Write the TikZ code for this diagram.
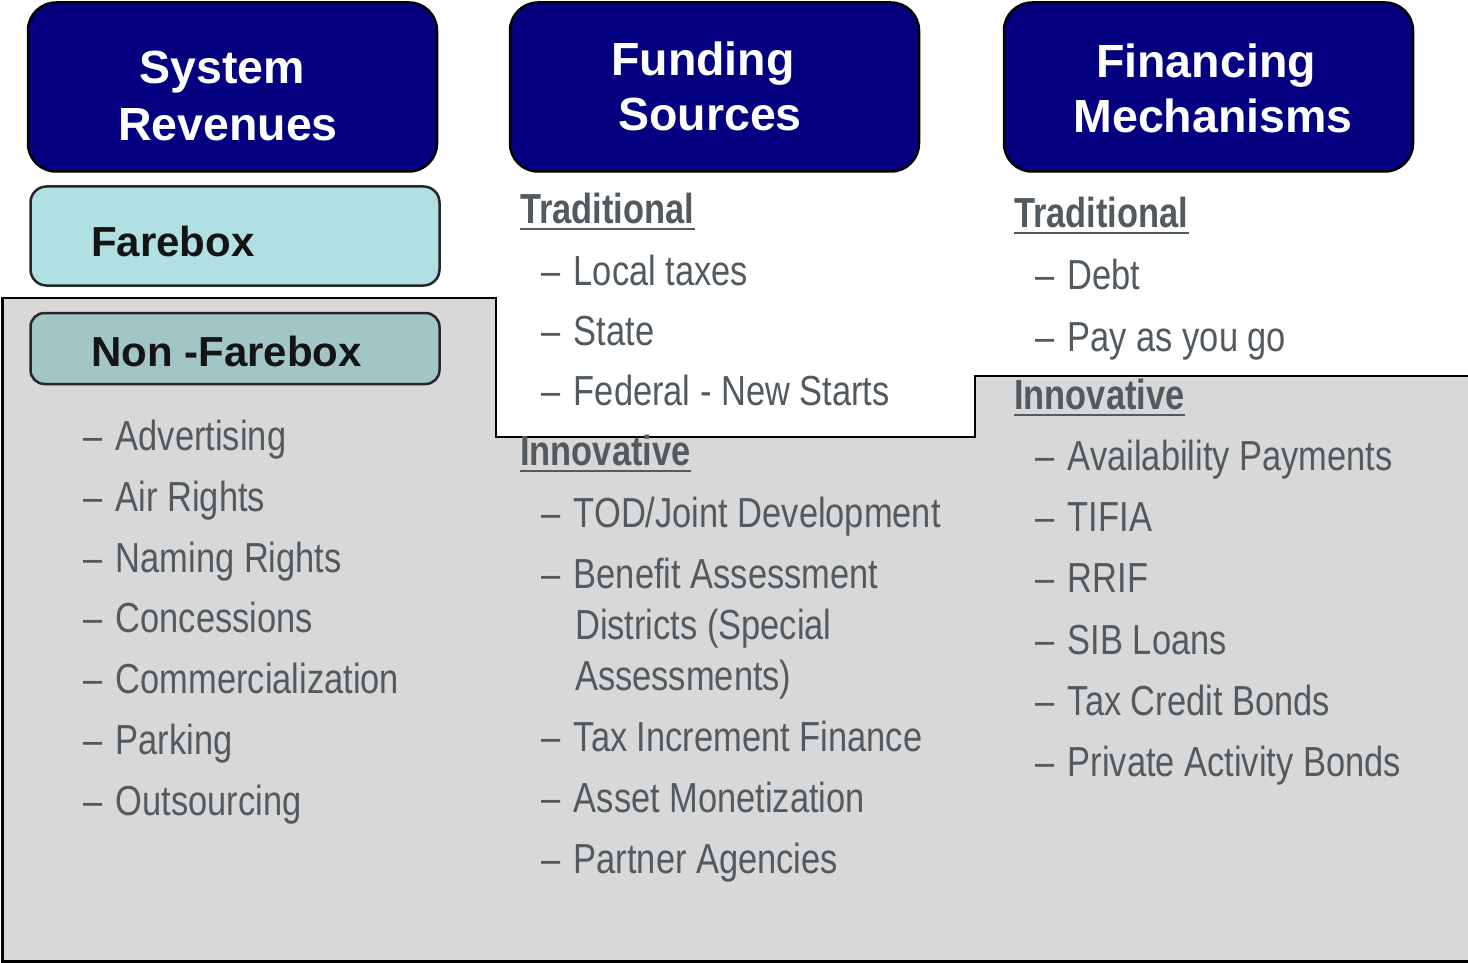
\documentclass[tikz,border=0pt]{standalone}
\usepackage{fontspec}
\setmainfont{Liberation Sans}
\newfontfamily\narrowfont[FakeStretch=0.82]{Liberation Sans}
\definecolor{navybox}{RGB}{4,0,128}
\definecolor{farefill}{RGB}{176,224,226}
\definecolor{nonfill}{RGB}{162,198,198}
\definecolor{panelgray}{RGB}{216,216,216}
\definecolor{txtgray}{RGB}{82,90,95}
\definecolor{boxtxt}{RGB}{20,20,20}
\newcommand{\itemdash}{–\hspace{13.5pt}}
\begin{document}
\begin{tikzpicture}[x=1pt,y=-1pt,
  hdrbox/.style={draw=black, line width=2.5pt, fill=navybox, rounded corners=28pt,
    minimum width=409pt, minimum height=169pt, inner sep=0pt},
  hdrtxt/.style={anchor=base, inner sep=0pt, text=white,
    font=\fontsize{46.5}{57}\selectfont\bfseries},
  subbox/.style={draw=black!85, line width=2.5pt, rounded corners=16pt,
    minimum width=409pt, inner sep=0pt},
  subtxt/.style={anchor=base west, inner sep=0pt, text=boxtxt,
    font=\fontsize{42}{51}\selectfont\bfseries},
  itm/.style={anchor=base west, inner sep=0pt, text=txtgray,
    font=\narrowfont\fontsize{42}{51}\selectfont},
  hd/.style={anchor=base west, inner sep=0pt, text=txtgray,
    font=\narrowfont\bfseries\fontsize{42}{51}\selectfont},
  uline/.style={draw=txtgray, line width=2.5pt}
]
\useasboundingbox (0,0) rectangle (1468,963);

% grey panel
\draw[fill=panelgray, line width=2.2pt] (2.5,298) -- (496,298) -- (496,437) -- (975,437)
  -- (975,376) -- (1480,376) -- (1480,961.5) -- (2.5,961.5) -- cycle;

% header boxes
\node[hdrbox] (sr) at (232.5,87) {};
\node[hdrbox] (fs) at (714.5,87) {};
\node[hdrbox] (fm) at (1208.5,87) {};

\node[hdrtxt] (sr1) at (222,84) {System};
\node[hdrtxt] (sr2) at (228,141) {Revenues};
\node[hdrtxt] (fs1) at (703,76) {Funding};
\node[hdrtxt] (fs2) at (710,131) {Sources};
\node[hdrtxt] (fm1) at (1206,78) {Financing};
\node[hdrtxt] (fm2) at (1213,133) {Mechanisms};

% farebox boxes
\node[subbox, fill=farefill, minimum height=99pt] (fb) at (235,236) {};
\node[subtxt] (fbt) at (91,256) {Farebox};
\node[subbox, fill=nonfill, minimum height=71pt, rounded corners=14pt] (nfb) at (235,348.5) {};
\node[subtxt] (nfbt) at (91,366) {Non -Farebox};

% left column
\node[itm] (l1) at (83,450) {\itemdash Advertising};
\node[itm] (l2) at (83,511) {\itemdash Air Rights};
\node[itm] (l3) at (83,572) {\itemdash Naming Rights};
\node[itm] (l4) at (83,632) {\itemdash Concessions};
\node[itm] (l5) at (83,693) {\itemdash Commercialization};
\node[itm] (l6) at (83,754) {\itemdash Parking};
\node[itm] (l7) at (83,815) {\itemdash Outsourcing};

% middle column
\node[hd] (mt) at (520,223) {Traditional};
\draw[uline] ([yshift=-6pt]mt.base west) -- ([yshift=-6pt]mt.base east);
\node[itm] (m1) at (541,285) {\itemdash Local taxes};
\node[itm] (m2) at (541,345) {\itemdash State};
\node[itm] (m3) at (541,405) {\itemdash Federal - New Starts};
\node[hd] (mi) at (520,465) {Innovative};
\draw[uline] ([yshift=-6pt]mi.base west) -- ([yshift=-6pt]mi.base east);
\node[itm] (m4) at (541,527) {\itemdash TOD/Joint Development};
\node[itm] (m5) at (541,588) {\itemdash Benefit Assessment};
\node[itm] (m5b) at (575,639) {Districts (Special};
\node[itm] (m5c) at (575,690) {Assessments)};
\node[itm] (m6) at (541,751) {\itemdash Tax Increment Finance};
\node[itm] (m7) at (541,812) {\itemdash Asset Monetization};
\node[itm] (m8) at (541,873) {\itemdash Partner Agencies};

% right column
\node[hd] (rt) at (1014,227) {Traditional};
\draw[uline] ([yshift=-6pt]rt.base west) -- ([yshift=-6pt]rt.base east);
\node[itm] (r1) at (1035,289) {\itemdash Debt};
\node[itm] (r2) at (1035,351) {\itemdash Pay as you go};
\node[hd] (ri) at (1014,409) {Innovative};
\draw[uline] ([yshift=-6pt]ri.base west) -- ([yshift=-6pt]ri.base east);
\node[itm] (r3) at (1035,470) {\itemdash Availability Payments};
\node[itm] (r4) at (1035,531) {\itemdash TIFIA};
\node[itm] (r5) at (1035,592) {\itemdash RRIF};
\node[itm] (r6) at (1035,654) {\itemdash SIB Loans};
\node[itm] (r7) at (1035,715) {\itemdash Tax Credit Bonds};
\node[itm] (r8) at (1035,776) {\itemdash Private Activity Bonds};
\end{tikzpicture}
\end{document}
